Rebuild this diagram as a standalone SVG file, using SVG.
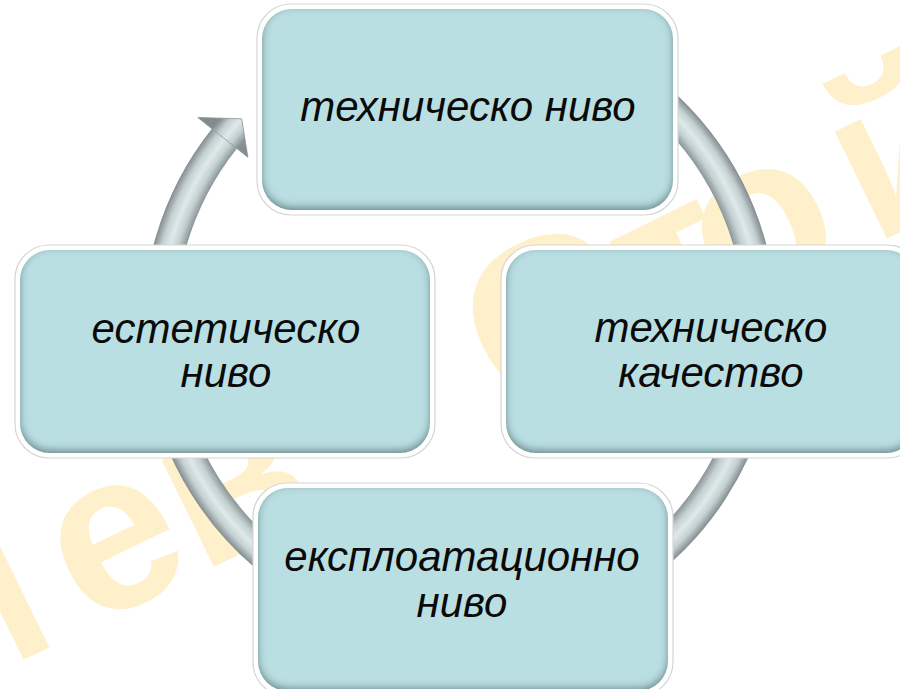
<svg xmlns="http://www.w3.org/2000/svg" width="900" height="689" viewBox="0 0 900 689">
<defs>
<style>
.halo{fill:#ffffff;stroke:#d4d6d6;stroke-width:1.2}
.box{fill:#badfe2;filter:url(#bevel)}
.lbl{font-family:"Liberation Sans","Noto Sans",Arial,sans-serif;font-style:italic;font-size:42px;fill:#0a0a0a;text-anchor:middle}
.wm{font-family:"Liberation Sans",Arial,sans-serif;font-weight:bold;font-size:225px;fill:#fff0cc}
</style>
<filter id="bevel" x="-5%" y="-8%" width="110%" height="116%">
<feFlood flood-color="#3f5f63" flood-opacity="0.85" result="f"/>
<feComposite in="f" in2="SourceAlpha" operator="out" result="outside"/>
<feGaussianBlur in="outside" stdDeviation="4.5" result="b"/>
<feOffset in="b" dx="0" dy="-3" result="o"/>
<feComposite in="o" in2="SourceAlpha" operator="in" result="inner"/>
<feMerge><feMergeNode in="SourceGraphic"/><feMergeNode in="inner"/></feMerge>
</filter>
<radialGradient id="tube" gradientUnits="userSpaceOnUse" cx="460" cy="326" r="340">
<stop offset="0.80" stop-color="#7d8788"/>
<stop offset="0.838" stop-color="#8a9496"/>
<stop offset="0.862" stop-color="#c4d0d1"/>
<stop offset="0.885" stop-color="#dfe9ea"/>
<stop offset="0.908" stop-color="#c4d0d1"/>
<stop offset="0.932" stop-color="#838d8f"/>
<stop offset="1" stop-color="#7d8788"/>
</radialGradient>
</defs>
<rect width="900" height="689" fill="#ffffff"/>
<g id="watermark" transform="translate(144,601) rotate(-26)">
<text class="wm" x="-228 -63 62 187 407 569 650 811" y="0">иев Стой</text>
</g>
<g id="connectors">
<path d="M 610.5 65.3 A 301 301 0 1 1 224.4 138.6" fill="none" stroke="url(#tube)" stroke-width="32"/>
<polygon points="197.8,117.5 241.7,118.8 247.9,157.3" fill="url(#tube)" stroke="#8a9496" stroke-width="0.8" stroke-linejoin="round"/>
</g>
<g id="node-top">
<rect class="halo" x="257" y="4" width="421" height="211" rx="34"/>
<rect class="box" x="262" y="9" width="411" height="201" rx="30"/>
<text class="lbl" x="468" y="121">техническо  ниво</text>
</g>
<g id="node-left">
<rect class="halo" x="15" y="245" width="420" height="213" rx="34"/>
<rect class="box" x="20" y="250" width="410" height="203" rx="30"/>
<text class="lbl" x="226" y="343">естетическо</text>
<text class="lbl" x="226" y="387">ниво</text>
</g>
<g id="node-right">
<rect class="halo" x="501" y="245" width="420" height="213" rx="34"/>
<rect class="box" x="506" y="250" width="410" height="203" rx="30"/>
<text class="lbl" x="711" y="342">техническо</text>
<text class="lbl" x="711" y="387">качество</text>
</g>
<g id="node-bottom">
<rect class="halo" x="253" y="483" width="420" height="213" rx="34"/>
<rect class="box" x="258" y="488" width="410" height="203" rx="30"/>
<text class="lbl" x="462" y="571">експлоатационно</text>
<text class="lbl" x="462" y="617">ниво</text>
</g>
</svg>
